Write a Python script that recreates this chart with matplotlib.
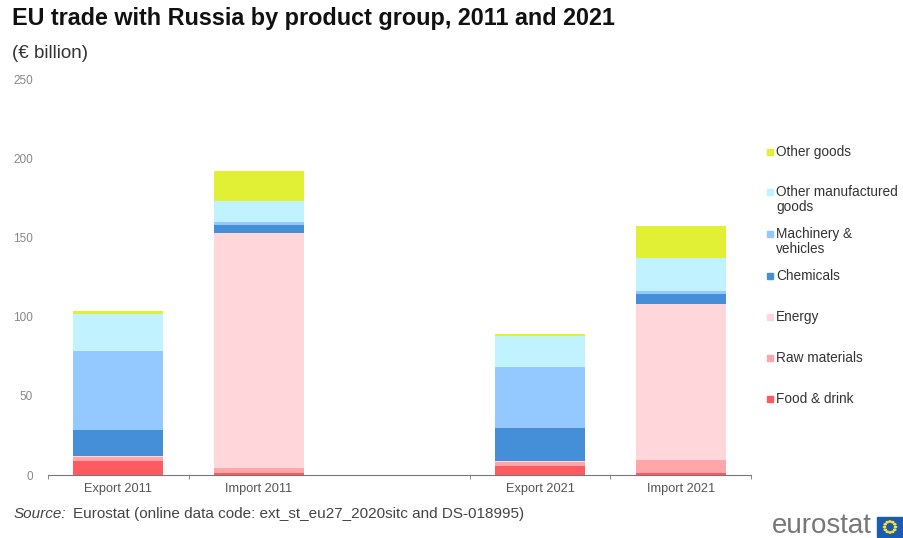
import matplotlib.pyplot as plt
from matplotlib.patches import Rectangle, Circle
import numpy as np

plt.rcParams["font.family"] = ["Liberation Sans", "DejaVu Sans"]

# Data (EUR billion)
bars = ["Export 2011", "Import 2011", "", "Export 2021", "Import 2021"]
groups = ["Food & drink", "Raw materials", "Energy", "Chemicals",
          "Machinery & vehicles", "Other manufactured goods", "Other goods"]
legend_labels = ["Food & drink", "Raw materials", "Energy", "Chemicals",
                 "Machinery &\nvehicles", "Other manufactured\ngoods", "Other goods"]
food = [8.8, 1.0, 0, 5.7, 1.5]
raw = [2.7, 3.6, 0, 2.7, 8.0]
energy = [0.5, 148.0, 0, 0.5, 98.2]
chemicals = [16.5, 5.2, 0, 20.6, 6.6]
machinery = [50.0, 2.1, 0, 38.7, 2.1]
other_mfg = [23.3, 13.1, 0, 19.6, 20.8]
other = [1.5, 19.0, 0, 1.1, 20.2]
series = [food, raw, energy, chemicals, machinery, other_mfg, other]
colors = ["#ff5a60", "#ffa6aa", "#ffd6d9", "#448fd8", "#93c9ff", "#c0f2ff", "#e1f034"]

fig = plt.figure(figsize=(9.04, 5.38), dpi=100)
ax = fig.add_axes([48 / 904, 63 / 538, 703 / 904, 396 / 538])

x = np.arange(len(bars))
bottom = np.zeros(len(bars))
for vals, col in zip(series, colors):
    vals = np.array(vals)
    ax.bar(x, vals, width=0.64, bottom=bottom, color=col, linewidth=0)
    bottom += vals

ax.set_xlim(-0.5, 4.5)
ax.set_ylim(0, 250)
ax.set_yticks([0, 50, 100, 150, 200, 250])
ax.tick_params(axis="y", length=0, labelsize=8.5, labelcolor="#888888", pad=11)
ax.set_xticks(x)
ax.set_xticklabels(bars, fontsize=9.2, color="#555555")
ax.tick_params(axis="x", length=0, pad=6)
ax.set_xticks([-0.5, 0.5, 2.5, 3.5, 4.5], minor=True)
ax.tick_params(axis="x", which="minor", length=3, color="#777777", direction="out")
for s in ["top", "right", "left"]:
    ax.spines[s].set_visible(False)
ax.spines["bottom"].set_color("#777777")

# titles
fig.text(12 / 904, 1 - 18 / 538, "EU trade with Russia by product group, 2011 and 2021",
         fontsize=16.8, fontweight="bold", color="#111111", va="center")
fig.text(12 / 904, 1 - 53 / 538, "(€ billion)", fontsize=13.5, color="#333333", va="center")

# legend, drawn manually top to bottom
leg_y = [152, 199.5, 241.5, 276, 317, 358, 399]
for lab, col, yy in zip(legend_labels[::-1], colors[::-1], leg_y):
    nlines = lab.count("\n") + 1
    ytop = yy - 7.5 * (nlines - 1)
    fig.patches.append(Rectangle((767 / 904, 1 - (ytop + 3) / 538), 6 / 904, 6 / 538,
                                 transform=fig.transFigure, color=col))
    fig.text(776 / 904, 1 - yy / 538, lab, fontsize=9.8, color="#333333",
             va="center", linespacing=1.1)

# source
fig.text(14 / 904, 1 - 514 / 538, "Source:", fontsize=11, style="italic",
         color="#444444", va="center")
fig.text(73 / 904, 1 - 514 / 538,
         "Eurostat (online data code: ext_st_eu27_2020sitc and DS-018995)",
         fontsize=11, color="#444444", va="center")

# eurostat logo
fig.text(872 / 904, 1 - 526 / 538, "eurostat", fontsize=20, color="#777777",
         ha="right", va="center")
fig.patches.append(Rectangle((877 / 904, 1 - 537 / 538), 26 / 904, 20 / 538,
                             transform=fig.transFigure, color="#1a5cb0"))
cx, cy = 890 / 904, 1 - 527 / 538
for a in np.linspace(0, 2 * np.pi, 12, endpoint=False):
    fig.patches.append(Circle((cx + 5.5 * np.cos(a) / 904, cy + 5.5 * np.sin(a) / 538),
                              0.0012, transform=fig.transFigure, color="#ffe033"))

fig.savefig("out.png", dpi=100)
